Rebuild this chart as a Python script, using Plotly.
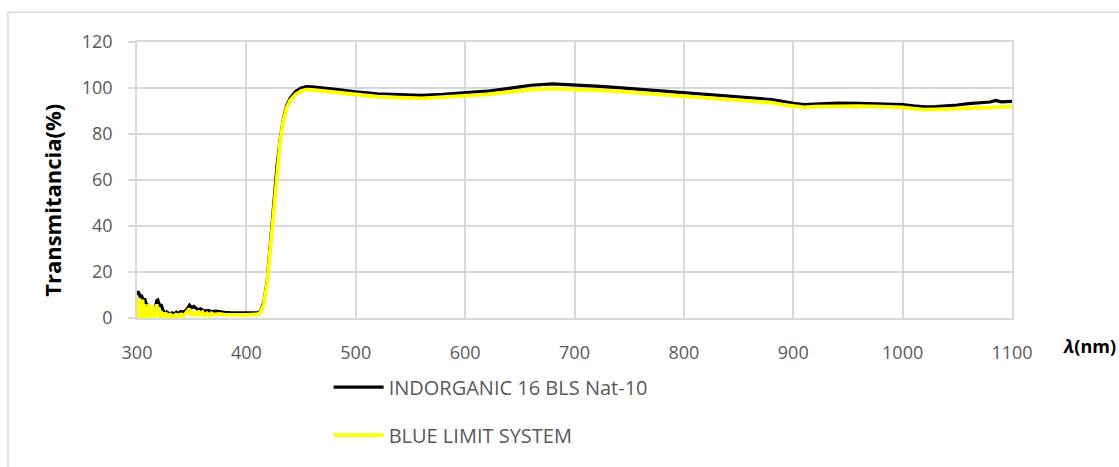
import plotly.graph_objects as go

# ---------------- data ----------------
wl_indorganic = [300, 301, 302, 303, 304, 305, 306, 307, 308, 309, 310, 311, 312, 313, 314, 315,
                 316, 317, 318, 319, 320, 321, 322, 323, 324, 325, 326, 327, 328, 329, 330, 332,
                 334, 336, 338, 340, 342, 344, 346, 348, 350, 352, 354, 356, 358, 360, 362, 365,
                 368, 372, 376, 380, 385, 390, 395, 400, 405, 410, 413, 416, 419, 422, 425, 428,
                 431, 434, 437, 440, 445, 450, 455, 460, 480, 500, 520, 540, 560, 580, 600, 620,
                 640, 660, 680, 700, 720, 740, 760, 780, 800, 820, 840, 860, 880, 890, 900, 910,
                 920, 940, 960, 980, 1000, 1010, 1020, 1030, 1040, 1050, 1060, 1070, 1080, 1085,
                 1090, 1100]
t_indorganic = [10, 11.6, 10.5, 9, 10, 8, 7, 8.5, 6, 5, 6, 4, 3.5, 3, 2.5, 2,
                3, 5, 7.5, 7.8, 6.5, 5, 6, 4, 3, 2.5, 2, 2.5, 1.5, 2, 1.5, 2.2,
                1.8, 2.5, 2, 2.8, 2.5, 3, 4, 5.6, 4.5, 5, 4, 3.5, 4, 3.5, 3, 3.3,
                2.8, 3, 2.6, 2.5, 2.4, 2.3, 2.2, 2.1, 2, 2.2, 3, 7, 16, 32, 50, 66,
                78, 87, 92.5, 95.5, 98.5, 100, 100.6, 100.5, 99.5, 98.3, 97.5, 97.0, 96.8, 97.2, 97.8, 98.6,
                99.8, 101.2, 101.8, 101.4, 100.8, 100.2, 99.5, 98.8, 98.0, 97.2, 96.5, 95.8, 95.0, 94.2, 93.3, 92.8,
                93.0, 93.4, 93.3, 93.1, 92.8, 92.2, 91.8, 91.9, 92.1, 92.6, 93.2, 93.6, 93.9, 94.6,
                94.0, 94.2]

wl_bls = [300, 301, 302, 303, 304, 305, 306, 307, 308, 309, 310, 311, 312, 313, 314, 315,
          316, 317, 318, 319, 320, 321, 322, 323, 324, 325, 326, 327, 328, 329, 330, 331,
          332, 333, 334, 335, 336, 337, 338, 339, 340, 342, 344, 346, 348, 349, 350, 351,
          352, 354, 356, 358, 360, 362, 364, 366, 368, 370, 375, 380, 385, 390, 395, 400,
          405, 410, 413, 416, 419, 422, 425, 428, 431, 434, 437, 440, 445, 450, 455, 460,
          480, 500, 520, 540, 560, 580, 600, 620, 640, 660, 680, 700, 720, 740, 760, 780,
          800, 820, 840, 860, 880, 890, 900, 910, 920, 940, 960, 980, 1000, 1010, 1020, 1040,
          1050, 1060, 1080, 1100]
t_bls = [0, 8.6, 1, 7, 0, 8, 2, 6, 0, 5, 1, 6, 0, 4, 1, 5,
         0, 3, 6, 1, 4, 0, 3, 1, 2, 0, 2.5, 0.5, 1.5, 0, 2, 0.5,
         1.5, 0, 1.5, 0.5, 2, 0, 1.5, 0.5, 2, 0.5, 1.5, 2.5, 4, 1, 3, 1,
         2.5, 1, 3, 1.5, 2.5, 1, 2, 1, 2, 1.5, 1.8, 1.5, 1.6, 1.5, 1.4, 1.4,
         1.4, 1.6, 2.5, 6, 15, 31, 49, 65, 77, 86, 91.5, 94.5, 97.2, 98.7, 99.3, 99.2,
         98.2, 96.8, 96.2, 95.8, 95.5, 96.0, 96.5, 97.2, 98.2, 99.3, 99.7, 99.5, 99.0, 98.5, 97.8, 97.2,
         96.5, 95.8, 95.1, 94.4, 93.6, 92.8, 92.0, 91.6, 91.9, 92.2, 92.1, 91.9, 91.6, 91.0, 90.6, 90.8,
         91.0, 91.3, 91.6, 91.9]

names = ["INDORGANIC 16 BLS Nat-10", "BLUE LIMIT SYSTEM"]
x_ticks = [300, 400, 500, 600, 700, 800, 900, 1000, 1100]
y_ticks = [0, 20, 40, 60, 80, 100, 120]
y_title = "Transmitancia(%)"
x_title = "<i>λ</i>(nm)"

# ---------------- figure ----------------
FONT = "Open Sans"
GRID = "#d9d9d9"
TXT = "#595959"

fig = go.Figure()
fig.add_trace(go.Scatter(x=wl_indorganic, y=t_indorganic, mode="lines", name=names[0],
                         legendgroup="a", line=dict(color="#000000", width=3.2)))
fig.add_trace(go.Scatter(x=wl_bls, y=t_bls, mode="lines", name=names[1],
                         legendgroup="b", line=dict(color="#ffff00", width=3.8)))

fig.update_layout(
    width=1119, height=467,
    margin=dict(l=137, r=107, t=42, b=147),
    paper_bgcolor="white", plot_bgcolor="white",
    font=dict(family=FONT, color=TXT),
    showlegend=True,
    xaxis=dict(range=[300, 1100], tickvals=x_ticks, showgrid=True, gridcolor=GRID, gridwidth=1.5,
               zeroline=False, showline=True, linecolor=GRID, linewidth=1.5, mirror=True,
               ticks="", ticklabelstandoff=18, tickfont=dict(family=FONT, size=18, color=TXT)),
    yaxis=dict(range=[0, 120], tickvals=y_ticks, showgrid=True, gridcolor=GRID, gridwidth=1.5,
               zeroline=False, showline=True, linecolor=GRID, linewidth=1.5, mirror=True,
               ticks="outside", ticklen=7, tickcolor=GRID, tickwidth=1.5,
               ticklabelstandoff=12, tickfont=dict(family=FONT, size=18, color=TXT)),
    legend=dict(x=0.219, y=(320 - 370) / 278, xanchor="left", yanchor="top",
                font=dict(family=FONT, size=20, color=TXT), bgcolor="rgba(0,0,0,0)",
                itemwidth=50, tracegroupgap=19, traceorder="grouped"),
    annotations=[
        dict(text=f"<b>{y_title}</b>", textangle=-90, xref="paper", yref="paper",
             x=(52 - 137) / 875, y=(320 - 202) / 278, xanchor="center", yanchor="middle",
             showarrow=False, font=dict(family=FONT, size=22, color="#000000")),
        dict(text=f"<b>{x_title}</b>", xref="paper", yref="paper",
             x=(1089 - 137) / 875, y=(320 - 348) / 278, xanchor="center", yanchor="middle",
             showarrow=False, font=dict(family=FONT, size=18, color="#000000")),
    ],
    shapes=[
        dict(type="rect", xref="paper", yref="paper",
             x0=(8 - 137) / 875, x1=(1130 - 137) / 875,
             y0=(320 - 480) / 278, y1=(320 - 12) / 278,
             line=dict(color=GRID, width=1.5), layer="below"),
    ],
)

fig.write_html("out.html", config={"displayModeBar": False},
               post_script="document.body.style.margin='0';")
